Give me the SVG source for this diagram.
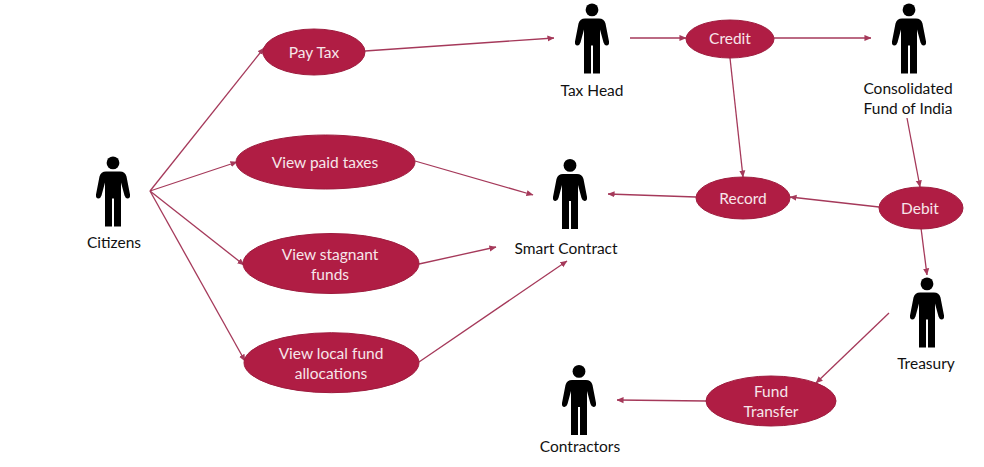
<svg xmlns="http://www.w3.org/2000/svg" width="984" height="467" viewBox="0 0 984 467">
<style>
text{font-family:"Lato","Open Sans",sans-serif;font-size:15.5px;text-anchor:middle}
.uc ellipse{fill:#b01d44;stroke:#9e1c3e;stroke-width:1}
.uc text{fill:#f7e6ea}
.actor text{fill:#111}
.c line{stroke:#a5395a;stroke-width:1.3;marker-end:url(#arr)}
</style>
<defs>
<marker id="arr" viewBox="0 0 8 8" refX="7.5" refY="4" markerWidth="7" markerHeight="7" markerUnits="userSpaceOnUse" orient="auto"><path d="M0,0.5L8,4L0,7.5z" fill="#a5395a"/></marker>
<symbol id="p" overflow="visible"><circle cx="0" cy="6.4" r="6.4" fill="#000"/><path fill="#000" d="M-7,15H7Q12,15 13.5,20L17,38Q17.5,42 14.5,42Q12.5,42 11.5,39L8,26V70H1V42H-1V70H-8V26L-11.5,39Q-12.5,42 -14.5,42Q-17.5,42 -17,38L-13.5,20Q-12,15 -7,15Z"/></symbol>
</defs>
<rect width="984" height="467" fill="#fff"/>
<g id="connectors" class="c">
<line x1="150" y1="191" x2="264" y2="48"/>
<line x1="150" y1="191" x2="237" y2="162"/>
<line x1="150" y1="191" x2="244" y2="265"/>
<line x1="150" y1="191" x2="245" y2="361"/>
<line x1="365" y1="51" x2="554" y2="38"/>
<line x1="630" y1="38" x2="686" y2="38"/>
<line x1="774" y1="38" x2="871" y2="38"/>
<line x1="730" y1="58" x2="743" y2="177"/>
<line x1="907" y1="118" x2="920" y2="187"/>
<line x1="879" y1="207" x2="790" y2="197"/>
<line x1="696" y1="197" x2="608" y2="194"/>
<line x1="415" y1="161" x2="533" y2="195"/>
<line x1="419" y1="264" x2="496" y2="247"/>
<line x1="419" y1="362" x2="567" y2="261"/>
<line x1="921" y1="228" x2="927" y2="275"/>
<line x1="889" y1="313" x2="816" y2="383"/>
<line x1="706" y1="401" x2="617" y2="400"/>
</g>
<g id="citizens" class="actor"><use href="#p" x="113" y="156.5"/><text x="114" y="248">Citizens</text></g>
<g id="tax-head" class="actor"><use href="#p" x="592" y="3.5"/><text x="592" y="96">Tax Head</text></g>
<g id="consolidated-fund" class="actor"><use href="#p" x="909" y="3.5"/><text x="908" y="94">Consolidated</text><text x="908" y="114">Fund of India</text></g>
<g id="smart-contract" class="actor"><use href="#p" x="570" y="159"/><text x="566" y="254">Smart Contract</text></g>
<g id="treasury" class="actor"><use href="#p" x="927" y="277.5"/><text x="926" y="369">Treasury</text></g>
<g id="contractors" class="actor"><use href="#p" x="579" y="365"/><text x="580" y="452">Contractors</text></g>
<g id="pay-tax" class="uc"><ellipse cx="314" cy="52" rx="51" ry="23"/><text x="314" y="58">Pay Tax</text></g>
<g id="view-paid-taxes" class="uc"><ellipse cx="325.500" cy="162" rx="89.500" ry="27"/><text x="325" y="168">View paid taxes</text></g>
<g id="view-stagnant-funds" class="uc"><ellipse cx="331" cy="263.500" rx="88" ry="30"/><text x="330" y="260">View stagnant</text><text x="330" y="280">funds</text></g>
<g id="view-local-fund" class="uc"><ellipse cx="331.500" cy="362.700" rx="87.500" ry="30"/><text x="331" y="359">View local fund</text><text x="331" y="379">allocations</text></g>
<g id="credit" class="uc"><ellipse cx="730" cy="39" rx="44" ry="19"/><text x="730" y="44">Credit</text></g>
<g id="record" class="uc"><ellipse cx="743" cy="198" rx="47" ry="21"/><text x="743" y="204">Record</text></g>
<g id="debit" class="uc"><ellipse cx="921" cy="208" rx="42" ry="21"/><text x="920" y="214">Debit</text></g>
<g id="fund-transfer" class="uc"><ellipse cx="771" cy="401" rx="65" ry="25"/><text x="771" y="397">Fund</text><text x="771" y="417">Transfer</text></g>
</svg>
